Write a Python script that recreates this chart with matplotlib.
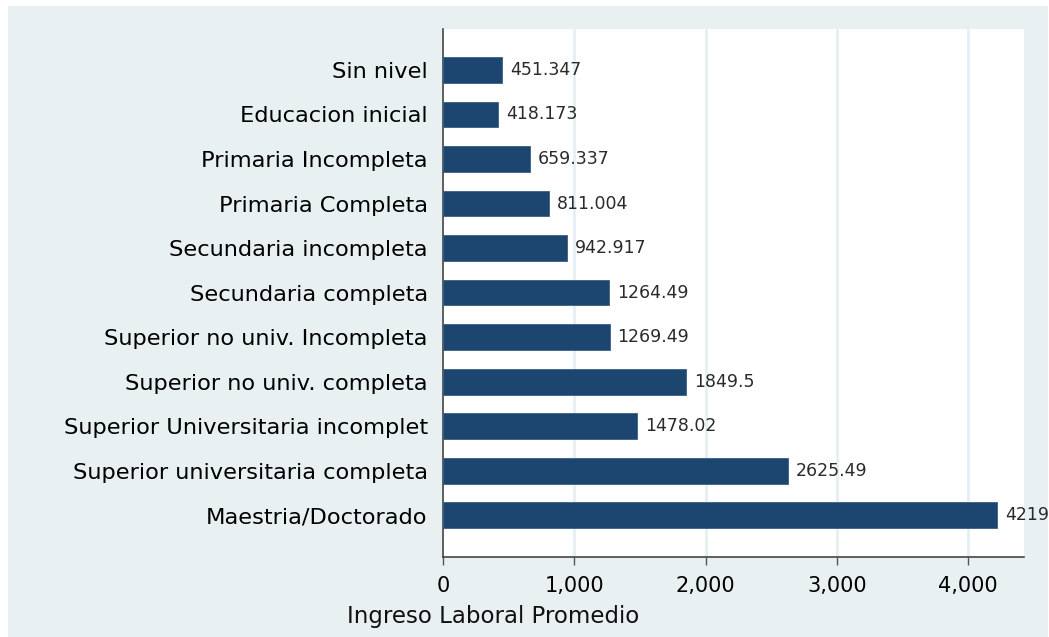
import matplotlib
matplotlib.use('Agg')
import matplotlib.pyplot as plt
from matplotlib.patches import Rectangle

plt.rcParams['font.family'] = ['DejaVu Sans']

# data
niveles = ["Sin nivel", "Educacion inicial", "Primaria Incompleta",
           "Primaria Completa", "Secundaria incompleta", "Secundaria completa",
           "Superior no univ. Incompleta", "Superior no univ. completa",
           "Superior Universitaria incomplet", "Superior universitaria completa",
           "Maestria/Doctorado"]
ingreso = [451.347, 418.173, 659.337, 811.004, 942.917, 1264.49,
           1269.49, 1849.5, 1478.02, 2625.49, 4219.53]
xticks = [0, 1000, 2000, 3000, 4000]

BAR = '#1c4670'
BG = '#e8f0f2'
W, H = 1049, 637

fig = plt.figure(figsize=(W / 100, H / 100), dpi=100)
fig.patch.set_facecolor('white')
# outer stata-like background panel
fig.patches.append(Rectangle((8 / W, -0.01), (W - 9) / W, (H - 6) / H + 0.01,
                             transform=fig.transFigure, facecolor=BG,
                             edgecolor='none', zorder=-10))

ax = fig.add_axes([443 / W, (H - 557) / H, (1024 - 443) / W, (557 - 29) / H])
ax.set_facecolor('white')

pos = list(range(len(niveles)))
ax.barh(pos, ingreso, height=0.58, color=BAR, edgecolor='#3a5f85',
        linewidth=0.6, zorder=3)
for p, v in zip(pos, ingreso):
    ax.text(v + 60, p, f"{v:g}", va='center', ha='left', fontsize=12.5,
            color='#2a2a2a', clip_on=False)

ax.set_ylim(len(niveles) - 1 + 0.94, -0.92)
ax.set_xlim(0, 4425)
ax.set_yticks(pos)
ax.set_yticklabels(niveles, fontsize=16.2)
ax.set_xticks(xticks)
ax.set_xticklabels([f"{t:,}" for t in xticks], fontsize=15)
ax.tick_params(axis='y', length=0, pad=11)
ax.tick_params(axis='x', length=6, width=1, color='#555555', pad=8)

for t in xticks[1:]:
    ax.axvline(t, color='#e6eff2', lw=2, zorder=1)

for s in ['top', 'right']:
    ax.spines[s].set_visible(False)
for s in ['left', 'bottom']:
    ax.spines[s].set_color('#444444')
    ax.spines[s].set_linewidth(1.2)

fig.text(493 / W, 1 - 617 / H, "Ingreso Laboral Promedio", ha='center',
         va='center', fontsize=16.5, color='#111111')

fig.savefig('out.png', dpi=100)
